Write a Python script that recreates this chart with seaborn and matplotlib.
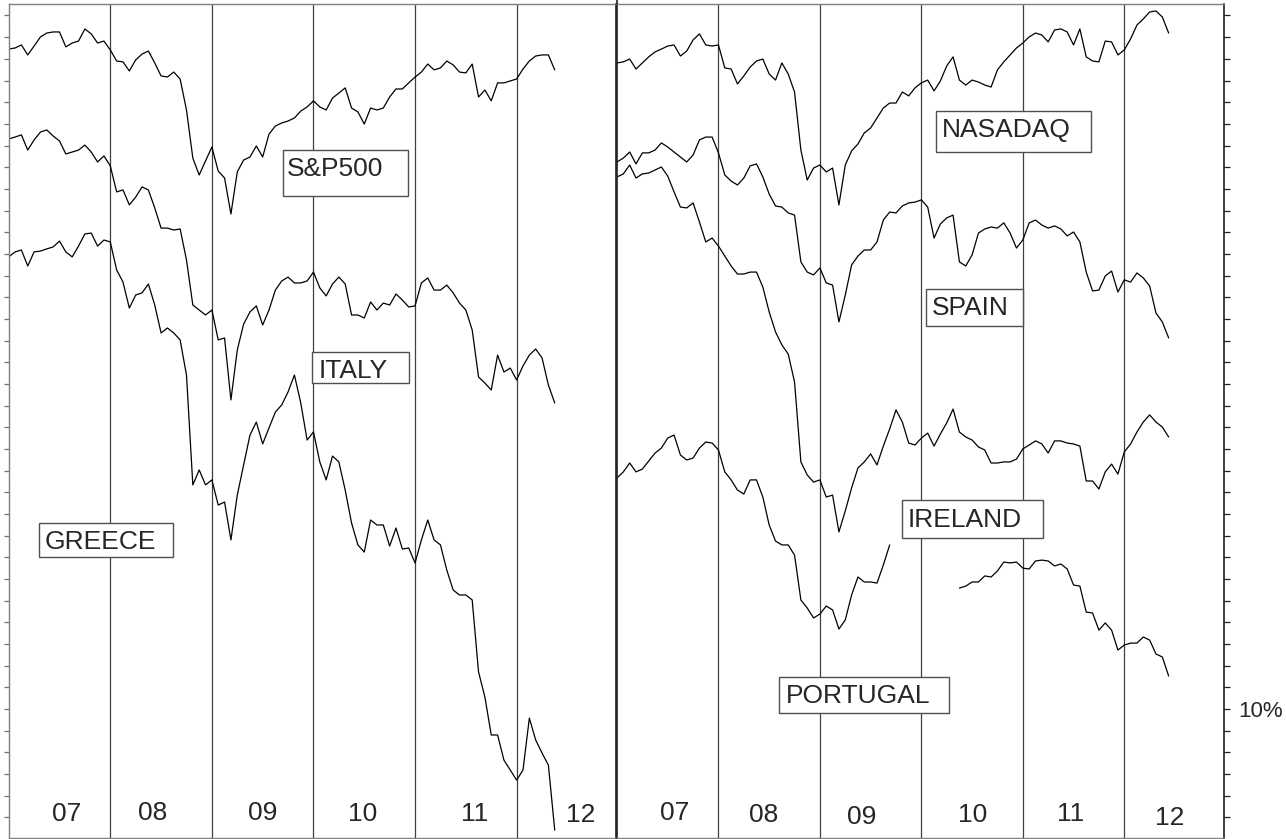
import numpy as np
import pandas as pd
import matplotlib
matplotlib.use("Agg")
import matplotlib.pyplot as plt
from matplotlib.patches import Rectangle
import seaborn as sns

# ---------------------------------------------------------
# Data: index levels on a log scale, in "10% steps"
# (one y tick = 10%). Sampled every 1/16 year from Jan 2007.
# ---------------------------------------------------------
STEP = 1 / 16
START = 2007.0

SP500 = [35.45, 35.50, 35.64, 35.18, 35.59, 36.01, 36.19, 36.24, 36.24, 35.55, 35.73, 35.82, 36.38, 36.15,
         35.73, 35.82, 35.41, 34.90, 34.86, 34.44, 34.95, 35.22, 35.36, 34.81, 34.21, 34.16, 34.39, 34.07,
         32.64, 30.42, 29.64, 30.29, 30.93, 29.82, 29.50, 27.84, 29.78, 30.33, 30.47, 30.98, 30.47, 31.53,
         31.90, 32.04, 32.13, 32.27, 32.59, 32.78, 33.06, 32.78, 32.64, 33.19, 33.42, 33.66, 32.73, 32.55,
         31.99, 32.73, 32.64, 32.73, 33.24, 33.61, 33.61, 33.89, 34.16, 34.39, 34.76, 34.49, 34.58, 34.90,
         34.72, 34.39, 34.35, 34.76, 33.24, 33.56, 33.06, 33.89, 33.89, 33.98, 34.07, 34.53, 34.90, 35.13,
         35.18, 35.18, 34.49]

ITALY = [31.30, 31.39, 31.49, 30.79, 31.26, 31.62, 31.72, 31.44, 31.21, 30.61, 30.70, 30.79, 31.02, 30.70,
         30.24, 30.52, 30.06, 28.86, 28.95, 28.26, 28.62, 29.09, 28.95, 28.12, 27.19, 27.19, 27.10, 27.15,
         25.72, 23.64, 23.41, 23.18, 23.41, 22.03, 22.12, 19.26, 21.56, 22.76, 23.32, 23.60, 22.72, 23.41,
         24.33, 24.75, 24.93, 24.66, 24.66, 24.75, 25.16, 24.43, 24.06, 24.61, 24.93, 24.61, 23.18, 23.18,
         23.04, 23.78, 23.41, 23.73, 23.64, 24.15, 23.87, 23.55, 23.60, 24.66, 24.89, 24.33, 24.33, 24.56,
         24.20, 23.73, 23.41, 22.49, 20.32, 20.04, 19.72, 21.33, 20.55, 20.73, 20.18, 20.83, 21.33, 21.61,
         21.20, 19.95, 19.12]

GREECE = [25.86, 26.09, 26.18, 25.44, 26.09, 26.13, 26.23, 26.32, 26.59, 26.09, 25.86, 26.36, 26.92, 26.96,
          26.36, 26.64, 26.55, 25.26, 24.70, 23.50, 24.10, 24.20, 24.61, 23.64, 22.35, 22.58, 22.35, 22.03,
          20.41, 15.34, 16.03, 15.34, 15.57, 14.41, 14.55, 12.80, 14.87, 16.26, 17.64, 18.24, 17.23, 17.97,
          18.70, 19.03, 19.63, 20.41, 19.12, 17.41, 17.78, 16.40, 15.57, 16.67, 16.40, 15.10, 13.58, 12.57,
          12.24, 13.72, 13.49, 13.49, 12.52, 13.35, 12.38, 12.43, 11.74, 12.80, 13.72, 12.80, 12.57, 11.41,
          10.49, 10.26, 10.26, 10.03, 6.71, 5.55, 3.80, 3.80, 2.64, 2.18, 1.72, 2.18, 4.58, 3.57,
          2.97, 2.41, -0.59]

NASDAQ = [34.81, 34.86, 34.99, 34.53, 34.81, 35.09, 35.32, 35.45, 35.59, 35.64, 35.13, 35.36, 35.87, 36.15,
          35.64, 35.59, 35.64, 34.58, 34.53, 33.84, 34.21, 34.62, 34.90, 34.99, 34.30, 34.02, 34.81, 34.30,
          33.47, 30.79, 29.41, 29.96, 30.10, 29.78, 29.96, 28.26, 30.10, 30.75, 31.07, 31.58, 31.81, 32.27,
          32.73, 32.96, 32.96, 33.47, 33.29, 33.66, 33.89, 34.02, 33.52, 33.98, 34.67, 35.09, 34.02, 33.79,
          34.02, 33.93, 33.79, 33.70, 34.49, 34.86, 35.18, 35.50, 35.73, 36.01, 36.19, 36.10, 35.78, 36.33,
          36.38, 36.24, 35.64, 36.38, 35.09, 34.90, 34.86, 35.82, 35.78, 35.18, 35.41, 35.92, 36.56, 36.84,
          37.16, 37.21, 36.93, 36.19]

SPAIN = [30.24, 30.42, 30.70, 30.15, 30.66, 30.66, 30.79, 31.12, 30.93, 30.70, 30.47, 30.24, 30.56, 31.26,
         31.39, 31.39, 30.66, 29.64, 29.36, 29.18, 29.50, 30.06, 30.15, 29.55, 28.76, 28.21, 28.16, 27.89,
         27.79, 25.63, 25.16, 25.03, 25.35, 24.66, 24.56, 22.86, 24.10, 25.49, 25.90, 26.18, 26.18, 26.55,
         27.56, 27.93, 27.89, 28.21, 28.35, 28.39, 28.49, 28.16, 26.73, 27.38, 27.66, 27.79, 25.63, 25.44,
         25.95, 26.96, 27.15, 27.24, 27.19, 27.43, 26.96, 26.27, 26.64, 27.43, 27.56, 27.33, 27.19, 27.29,
         27.15, 26.83, 27.01, 26.55, 25.16, 24.29, 24.33, 24.98, 25.21, 24.24, 24.80, 24.70, 25.12, 24.89,
         24.52, 23.27, 22.86, 22.12]

IRELAND = [29.55, 29.69, 30.10, 29.50, 29.69, 29.73, 29.87, 30.01, 29.59, 28.86, 28.16, 28.12, 28.35, 27.47,
           26.55, 26.73, 26.36, 25.90, 25.44, 25.07, 25.07, 25.16, 25.16, 24.47, 23.32, 22.40, 21.80, 21.38,
           20.09, 16.40, 15.80, 15.47, 15.57, 14.78, 14.87, 13.17, 14.14, 15.20, 16.12, 16.40, 16.77, 16.26,
           17.13, 17.92, 18.80, 18.24, 17.27, 17.18, 17.50, 17.73, 17.13, 17.69, 18.20, 18.84, 17.78, 17.55,
           17.41, 17.09, 16.95, 16.35, 16.35, 16.40, 16.40, 16.53, 17.00, 17.18, 17.37, 17.23, 16.81, 17.37,
           17.37, 17.27, 17.23, 17.13, 15.52, 15.52, 15.15, 15.94, 16.30, 15.84, 16.86, 17.23, 17.78, 18.24,
           18.57, 18.24, 18.01, 17.55]

# gap in early 2010 (no data)
PORTUGAL = [15.66, 15.94, 16.35, 15.94, 16.07, 16.44, 16.81, 17.04, 17.50, 17.64, 16.72, 16.49, 16.58, 17.04,
            17.32, 17.27, 16.95, 15.94, 15.57, 15.10, 14.92, 15.57, 15.57, 14.78, 13.49, 12.75, 12.57, 12.57,
            12.10, 10.03, 9.66, 9.20, 9.38, 9.75, 9.57, 8.69, 9.11, 10.26, 11.09, 10.86, 10.86, 10.81,
            11.64, 12.57, None, None, None, None, None, None, None, None, None, None,
            10.58, 10.67, 10.86, 10.86, 11.14, 11.09, 11.37, 11.78, 11.74, 11.78, 11.50, 11.46, 11.83, 11.87,
            11.83, 11.60, 11.69, 11.46, 10.72, 10.67, 9.47, 9.43, 8.64, 8.97, 8.64, 7.72, 7.95, 8.04,
            8.04, 8.32, 8.18, 7.54, 7.40, 6.52]

YEAR_LINES = [2008, 2009, 2010, 2011, 2012]
YEAR_LABELS = ['07', '08', '09', '10', '11', '12']
LEFT_YEAR_X = [2007.574, 2008.417, 2009.498, 2010.488, 2011.590, 2012.633]
LEFT_YEAR_Y = [-0.16, -0.13, -0.13, -0.16, -0.16, -0.20]
RIGHT_YEAR_X = [2007.564, 2008.447, 2009.408, 2010.501, 2011.473, 2012.451]
RIGHT_YEAR_Y = [-0.13, -0.20, -0.31, -0.20, -0.16, -0.36]

# name, text x, text baseline, box (x0, y0, x1, y1)
LEFT_NAMES = [('S&P500', 2009.742, 29.59, (2009.697, 28.67, 2010.933, 30.79)),
              ('ITALY', 2010.048, 20.26, (2009.988, 20.03, 2010.943, 21.49)),
              ('GREECE', 2007.357, 12.38, (2007.301, 12.00, 2008.620, 13.60))]
RIGHT_NAMES = [('NASADAQ', 2010.201, 31.38, (2010.144, 30.72, 2011.669, 32.61)),
               ('SPAIN', 2010.102, 23.18, (2010.046, 22.67, 2010.999, 24.37)),
               ('IRELAND', 2009.862, 13.38, (2009.806, 12.88, 2011.202, 14.64)),
               ('PORTUGAL', 2008.663, 5.29, (2008.600, 4.80, 2010.276, 6.49))]

TICK_LEVELS = list(range(0, 38))
SCALE_LABEL = '10%'
SCALE_TICK = 5


def to_frame(series):
    parts = []
    for name, values in series.items():
        v = pd.Series(values, dtype=float)
        seg = v.isna().cumsum()
        parts.append(pd.DataFrame({
            'year': START + np.arange(len(v)) * STEP,
            'level': v,
            'segment': [f'{name}_{s}' for s in seg],
        }).dropna())
    return pd.concat(parts, ignore_index=True)


left_df = to_frame({'SP500': SP500, 'ITALY': ITALY, 'GREECE': GREECE})
right_df = to_frame({'NASDAQ': NASDAQ, 'SPAIN': SPAIN, 'IRELAND': IRELAND, 'PORTUGAL': PORTUGAL})

# ---------------------------------------------------------
# Figure
# ---------------------------------------------------------
sns.set_style("white")
plt.rcParams['font.family'] = ['Liberation Sans', 'DejaVu Sans']

fig = plt.figure(figsize=(12.86, 8.39), dpi=100)
ax_l = fig.add_axes([8.7 / 1286, 1.5 / 839, 607.8 / 1286, 833.5 / 839])
ax_r = fig.add_axes([617 / 1286, 1.5 / 839, 607 / 1286, 833.5 / 839])

panels = [(ax_l, left_df, LEFT_NAMES, LEFT_YEAR_X, LEFT_YEAR_Y),
          (ax_r, right_df, RIGHT_NAMES, RIGHT_YEAR_X, RIGHT_YEAR_Y)]

for ax, df, names, yx, yy in panels:
    sns.lineplot(data=df, x='year', y='level', units='segment', estimator=None,
                 color='black', linewidth=0.9, legend=False, ax=ax, zorder=2)
    for yr in YEAR_LINES:
        ax.axvline(yr, color='#404040', linewidth=0.9, zorder=1)
    for name, tx, ty, (x0, y0, x1, y1) in names:
        ax.add_patch(Rectangle((x0, y0), x1 - x0, y1 - y0, facecolor='white',
                               edgecolor='#505050', linewidth=1.0, zorder=3))
        ax.text(tx, ty, name, fontsize=19, ha='left', va='baseline', zorder=4)
    for lab, x, y in zip(YEAR_LABELS, yx, yy):
        ax.text(x, y, lab, fontsize=19, ha='center', va='baseline', zorder=4)
    ax.set_xlim(2007, 2012.983)
    ax.set_ylim(-0.93, 37.53)
    ax.set_xlabel('')
    ax.set_ylabel('')
    ax.set_yticks(TICK_LEVELS)

# left panel: ticks on the left, no labels
ax_l.set_xticks([])
ax_l.tick_params(axis='y', left=True, right=False, direction='out', length=3.8,
                 width=0.9, color='#707070', labelleft=False)
for side in ['left', 'top', 'bottom']:
    ax_l.spines[side].set_color('#808080')
    ax_l.spines[side].set_linewidth(1.0)
ax_l.spines['right'].set_color('#202020')
ax_l.spines['right'].set_linewidth(1.2)

# right panel: ticks on the right with a single scale label
ax_r.yaxis.tick_right()
ax_r.set_yticklabels([SCALE_LABEL if k == SCALE_TICK else '' for k in TICK_LEVELS])
ax_r.tick_params(axis='y', left=False, right=True, direction='out', length=4.3,
                 width=0.9, color='#202020', labelsize=16, pad=5.8)
ax_r.xaxis.tick_top()
ax_r.set_xticks([2007])
ax_r.set_xticklabels([])
ax_r.tick_params(axis='x', direction='out', length=3, width=1.2, color='#202020')
for side in ['top', 'bottom']:
    ax_r.spines[side].set_color('#808080')
    ax_r.spines[side].set_linewidth(1.0)
for side in ['left', 'right']:
    ax_r.spines[side].set_color('#202020')
    ax_r.spines[side].set_linewidth(1.2)

fig.savefig('out.png', dpi=100)
